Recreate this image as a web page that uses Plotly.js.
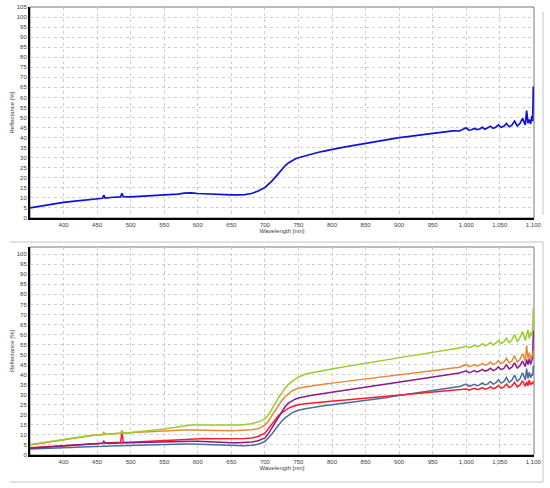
<!DOCTYPE html>
<html>
<head>
<meta charset="utf-8">
<script src="https://cdn.plot.ly/plotly-3.0.1.min.js"></script>
<style>html,body{margin:0;padding:0;background:#fff;}#chart{width:550px;height:488px;}</style>
</head>
<body>
<div id="chart"></div>
<script>
var wavelength = [350,360,370,380,390,400,410,420,430,440,450,458,460,462,470,480,485,487,489,500,
510,520,530,540,550,560,570,580,590,600,610,620,630,640,650,660,670,680,690,
700,705,710,715,720,725,730,735,740,745,750,
760,770,780,790,800,810,820,830,840,850,860,870,880,890,900,910,920,930,940,950,960,970,980,990,
1000,1004,1008,1012,1016,1020,1024,1028,1032,1036,1040,1044,1048,1052,1056,1060,1064,1068,1072,1076,1080,1084,1088,1090,1092,1094,1096,1098,1099,1100];

var topSample = [5.0,5.6,6.1,6.6,7.2,7.8,8.1,8.5,8.9,9.2,9.4,9.8,11.4,9.9,10.2,10.4,10.5,12.3,10.6,10.5,
10.7,10.9,11.0,11.2,11.4,11.6,11.9,12.4,12.5,12.2,12.0,11.9,11.7,11.6,11.5,11.5,11.6,12.2,13.4,
15.2,16.6,18.2,20.1,22.1,24.2,26.0,27.4,28.6,29.4,30.0,
31.0,31.9,32.7,33.4,34.2,34.8,35.4,36.0,36.6,37.2,37.7,38.3,38.8,39.4,40.0,40.4,40.9,41.2,41.7,42.1,42.5,42.8,43.4,43.3,
44.9,43.7,43.9,44.6,44.0,44.3,45.1,44.2,44.8,45.7,44.6,45.2,46.3,45.1,45.6,47.0,45.4,46.2,48.2,45.8,47.0,49.6,46.3,53.5,47.2,49.0,46.8,50.8,48.2,65.5];

var greenSample = [5.2,5.7,6.2,6.8,7.4,7.9,8.4,8.9,9.3,9.7,10.0,10.2,10.4,10.3,10.6,10.8,10.9,12.3,11.0,11.2,
11.5,11.8,12.2,12.6,13.0,13.5,14.0,14.5,14.9,15.0,15.0,14.9,14.9,14.8,14.9,15.0,15.2,15.6,16.4,
18.0,19.8,22.4,25.4,28.4,31.0,33.3,35.2,36.6,37.8,38.8,
40.2,41.0,41.7,42.3,42.8,43.4,44.0,44.6,45.1,45.6,46.2,46.8,47.4,48.0,48.5,49.0,49.5,50.1,50.6,51.0,51.6,52.2,52.8,53.3,
54.2,53.5,53.9,54.7,54.0,54.4,55.4,54.5,55.0,56.0,54.8,55.7,57.1,55.5,56.3,58.2,55.9,57.3,60.0,56.4,58.5,61.5,57.0,60.0,62.4,58.0,61.0,59.5,63.5,73.0];

var orangeSample = [5.0,5.5,6.0,6.6,7.2,7.8,8.3,8.8,9.2,9.6,9.9,10.1,11.2,10.2,10.4,10.7,10.8,10.9,10.9,11.1,
11.3,11.5,11.7,11.9,12.0,12.2,12.4,12.5,12.5,12.4,12.3,12.2,12.1,12.1,12.1,12.2,12.3,12.6,13.1,
14.9,16.8,19.4,22.2,24.8,27.0,29.0,30.6,31.8,32.6,33.2,
33.9,34.5,35.0,35.4,35.8,36.2,36.6,37.0,37.4,37.7,38.1,38.5,38.9,39.3,39.8,40.2,40.6,41.1,41.5,41.9,42.4,42.8,43.3,43.7,
45.1,44.0,44.4,45.1,44.4,44.8,45.6,44.7,45.2,46.3,45.0,45.6,47.0,45.5,46.2,48.2,45.9,46.8,49.5,46.3,47.5,50.5,47.0,54.5,48.0,51.0,47.5,50.0,48.8,52.0];

var purpleSample = [3.4,3.6,3.8,4.0,4.2,4.4,4.7,4.9,5.1,5.3,5.6,5.8,6.9,5.9,5.9,6.0,6.0,6.1,6.1,6.2,
6.3,6.4,6.4,6.5,6.6,6.7,6.8,6.9,6.9,6.8,6.6,6.5,6.3,6.2,6.1,6.1,6.2,6.5,7.1,
8.5,10.5,13.2,16.2,19.2,21.8,24.0,25.8,27.0,27.8,28.4,
29.2,29.8,30.3,30.8,31.2,31.7,32.2,32.7,33.1,33.6,34.1,34.6,35.1,35.7,36.3,36.8,37.3,37.8,38.3,38.8,39.3,39.8,40.3,40.8,
41.9,41.0,41.4,42.0,41.4,41.8,42.6,41.8,42.2,43.2,42.0,42.6,43.9,42.5,43.1,44.9,42.9,43.7,45.9,43.3,44.5,46.8,44.0,47.6,45.0,48.0,45.2,47.0,48.5,62.0];

var redSample = [3.6,3.8,4.0,4.2,4.4,4.6,4.9,5.1,5.3,5.5,5.7,5.9,6.3,6.0,6.1,6.2,6.3,11.5,6.3,6.4,
6.5,6.7,6.8,7.0,7.2,7.4,7.6,7.9,8.1,8.2,8.2,8.1,8.1,8.0,8.0,8.0,8.2,8.5,9.2,
10.9,13.0,15.5,17.7,19.5,21.0,22.2,23.2,24.0,24.6,25.0,
25.5,25.9,26.3,26.6,26.9,27.2,27.4,27.7,28.0,28.3,28.6,28.9,29.2,29.5,29.8,30.1,30.4,30.7,31.0,31.3,31.6,31.9,32.2,32.5,
32.9,32.3,32.6,33.2,32.6,32.9,33.6,32.8,33.1,34.0,33.0,33.5,34.6,33.3,33.8,35.4,33.6,34.3,36.2,33.9,34.8,37.0,34.2,36.5,34.5,37.4,35.0,36.0,35.3,36.8];

var steelSample = [3.0,3.1,3.2,3.3,3.5,3.7,3.8,4.0,4.1,4.2,4.3,4.4,4.5,4.4,4.5,4.6,4.7,4.8,4.7,4.8,
4.9,5.0,5.1,5.2,5.3,5.4,5.5,5.5,5.5,5.4,5.2,5.0,4.8,4.7,4.6,4.6,4.6,4.8,5.3,
6.7,8.3,10.3,12.6,14.8,16.8,18.5,19.8,20.9,21.7,22.3,
23.0,23.6,24.1,24.6,25.0,25.4,25.8,26.2,26.6,27.0,27.5,28.0,28.5,29.1,29.6,30.2,30.8,31.4,31.9,32.4,32.9,33.3,33.7,34.1,
35.3,34.2,34.6,35.2,34.5,34.9,35.9,34.9,35.4,36.6,35.3,35.9,37.4,35.8,36.5,38.6,36.2,37.2,39.8,36.7,38.0,41.0,37.3,43.0,38.2,41.2,38.5,40.5,39.5,44.5];

var xTickVals = [400,450,500,550,600,650,700,750,800,850,900,950,1000,1050,1100];
var xTitle = 'Wavelength [nm]';
var yTitle = 'Reflectance [%]';

var W = 550, H = 488;
function px(x){ return x / W; }
function py(y){ return 1 - y / H; }

var tickFont = {family: 'Liberation Sans, Arial, sans-serif', size: 6, color: '#404040'};

function xAxis(domainAnchor){
  return {
    domain: [px(30), px(534)], range: [350, 1101], anchor: domainAnchor,
    tickvals: xTickVals, tickformat: ',d', tickfont: tickFont,
    ticks: '', showgrid: true, gridcolor: '#cfcfcf', griddash: 'dot', gridwidth: 1,
    showline: true, linecolor: '#000', linewidth: 2, zeroline: false,
    title: {text: xTitle, font: tickFont, standoff: 2},
    automargin: false, fixedrange: true
  };
}
function yAxis(dom, rng, anchor){
  return {
    domain: dom, range: rng, anchor: anchor, dtick: 5, tick0: 0, tickfont: tickFont,
    ticks: '', showgrid: true, gridcolor: '#cfcfcf', griddash: 'dot', gridwidth: 1,
    showline: true, linecolor: '#000', linewidth: 2, zeroline: false,
    title: {text: yTitle, font: tickFont, standoff: 2},
    automargin: false, fixedrange: true
  };
}

var traces = [
  {x: wavelength, y: topSample, xaxis: 'x', yaxis: 'y', type: 'scatter', mode: 'lines', line: {color: '#1010d8', width: 1.7}},
  {x: wavelength, y: steelSample, xaxis: 'x2', yaxis: 'y2', type: 'scatter', mode: 'lines', line: {color: '#4a6e9c', width: 1.5}},
  {x: wavelength, y: redSample, xaxis: 'x2', yaxis: 'y2', type: 'scatter', mode: 'lines', line: {color: '#ff1a2a', width: 1.5}},
  {x: wavelength, y: purpleSample, xaxis: 'x2', yaxis: 'y2', type: 'scatter', mode: 'lines', line: {color: '#8a1a8a', width: 1.5}},
  {x: wavelength, y: orangeSample, xaxis: 'x2', yaxis: 'y2', type: 'scatter', mode: 'lines', line: {color: '#e38a3a', width: 1.5}},
  {x: wavelength, y: greenSample, xaxis: 'x2', yaxis: 'y2', type: 'scatter', mode: 'lines', line: {color: '#9acd2a', width: 1.5}}
];

var frameGray = '#c4c4c4';
var shapes = [
  {type: 'rect', xref: 'paper', yref: 'paper', x0: px(30), x1: px(534), y0: py(218), y1: py(7), line: {color: '#777', width: 1}, layer: 'below'},
  {type: 'rect', xref: 'paper', yref: 'paper', x0: px(30), x1: px(534), y0: py(455), y1: py(247), line: {color: '#777', width: 1}, layer: 'below'},
  {type: 'line', xref: 'paper', yref: 'paper', x0: px(543), x1: px(543), y0: py(12), y1: py(215), line: {color: frameGray, width: 1}},
  {type: 'line', xref: 'paper', yref: 'paper', x0: px(10), x1: px(543), y0: py(242), y1: py(242), line: {color: frameGray, width: 1}},
  {type: 'line', xref: 'paper', yref: 'paper', x0: px(543), x1: px(543), y0: py(242), y1: py(482), line: {color: frameGray, width: 1}},
  {type: 'line', xref: 'paper', yref: 'paper', x0: px(10), x1: px(543), y0: py(482), y1: py(482), line: {color: frameGray, width: 1}}
];

var layout = {
  width: W, height: H, margin: {l: 0, r: 0, t: 0, b: 0},
  paper_bgcolor: '#fff', plot_bgcolor: '#fff', showlegend: false,
  font: tickFont,
  xaxis: xAxis('y'),
  yaxis: yAxis([py(218), py(7)], [0, 105], 'x'),
  xaxis2: xAxis('y2'),
  yaxis2: yAxis([py(455), py(247)], [0, 103.6], 'x2'),
  shapes: shapes
};

Plotly.newPlot('chart', traces, layout, {displayModeBar: false, staticPlot: true});
</script>
</body>
</html>
